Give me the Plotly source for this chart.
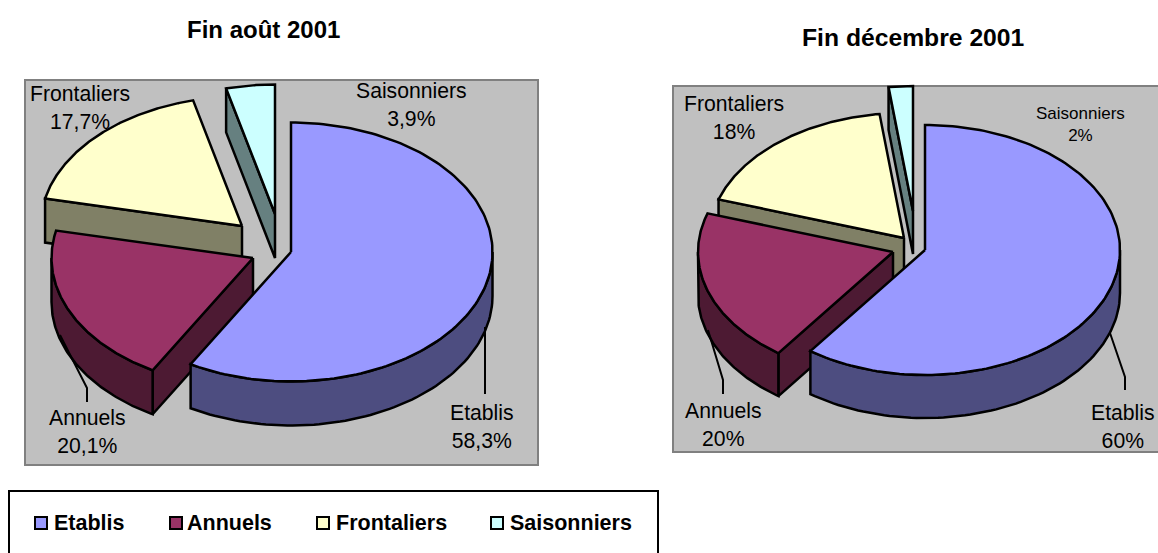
import numpy as np
import plotly.graph_objects as go

categories = ["Etablis", "Annuels", "Frontaliers", "Saisonniers"]
values_aug = [58.3, 20.1, 17.7, 3.9]
values_dec = [60, 20, 18, 2]
title_aug = "Fin août 2001"
title_dec = "Fin décembre 2001"

FACE = ["#9999FF", "#993366", "#FFFFCC", "#CCFFFF"]
SIDE = ["#4D4D80", "#4D1A33", "#808066", "#668080"]
FONT = "Liberation Sans, Arial, sans-serif"
LW = 2.5

fig = go.Figure()


def poly(xs, ys, color):
    fig.add_trace(go.Scatter(x=xs, y=ys, mode="lines", fill="toself", fillcolor=color,
                             line=dict(color="black", width=LW), hoverinfo="skip", showlegend=False))


def pie3d(values, apexes, rx, ry, depth):
    total = sum(values)
    ends = np.cumsum(values) / total * 360.0
    starts = np.concatenate([[0.0], ends[:-1]])
    for i in [3, 2, 1, 0]:
        cx, cy = apexes[i]
        a0, a1 = starts[i], ends[i]
        # cut face on the starting edge
        if a0 > 90:
            ex = cx + rx * np.sin(np.radians(a0))
            ey = cy - ry * np.cos(np.radians(a0))
            poly([cx, ex, ex, cx, cx], [cy, ey, ey + depth, cy + depth, cy], SIDE[i])
        # outer rim
        r0, r1 = max(a0, 90.0), min(a1, 270.0)
        if r1 > r0:
            t = np.radians(np.linspace(r0, r1, 80))
            xr = cx + rx * np.sin(t)
            yr = cy - ry * np.cos(t)
            poly(np.r_[xr, xr[::-1], xr[0]], np.r_[yr, yr[::-1] + depth, yr[0]], SIDE[i])
        # top
        t = np.radians(np.linspace(a0, a1, 160))
        poly(np.r_[cx, cx + rx * np.sin(t), cx], np.r_[cy, cy - ry * np.cos(t), cy], FACE[i])


def lab(x, y, text, size=21.2, bold=False):
    fig.add_annotation(x=x, y=y, xref="x", yref="y", text=f"<b>{text}</b>" if bold else text,
                       showarrow=False, align="center", font=dict(family=FONT, size=size, color="black"))


def leader(xs, ys):
    fig.add_trace(go.Scatter(x=xs, y=ys, mode="lines", line=dict(color="black", width=2),
                             hoverinfo="skip", showlegend=False))


def fmt(v, dec):
    return (f"{v:.{dec}f}".replace(".", ",")) + "%"


# chart frames
frames = [(25, 80, 538, 465), (673, 86, 1170, 452)]
shapes = [dict(type="rect", x0=a, y0=b, x1=c, y1=d, xref="x", yref="y", layer="below",
               fillcolor="#C0C0C0", line=dict(color="#808080", width=2)) for a, b, c, d in frames]
shapes.append(dict(type="rect", x0=9, y0=491, x1=658, y1=570, xref="x", yref="y", layer="below",
                   fillcolor="white", line=dict(color="black", width=2)))

pie3d(values_aug, [(291, 252), (253, 258), (242, 226), (275, 214)], 201.5, 129.5, 44)
pie3d(values_dec, [(925, 250), (893, 252), (904, 238), (913, 211)], 195, 125, 43)

leader([485, 485], [327, 394])
leader([60, 70, 87, 87], [335, 355, 388, 402])
leader([1110, 1125, 1125], [333, 377, 390])
leader([708, 723, 723], [330, 380, 394])

lab(263.5, 29, title_aug, 24, True)
lab(913.5, 37, title_dec, 24.7, True)

pos_aug = [(482, 426), (87, 431), (80, 107), (411, 104)]
pos_dec = [(1123, 426), (723, 424), (734, 117), (1080, 124)]
for c, v, p in zip(categories, values_aug, pos_aug):
    lab(p[0], p[1], f"{c}<br>{fmt(v, 1)}")
for c, v, p, s in zip(categories, values_dec, pos_dec, [21.2, 21.2, 21.2, 17]):
    lab(p[0], p[1], f"{c}<br>{fmt(v, 0)}", s)

# legend
leg_x = [41, 176, 323, 497]
leg_text_x = [51.5, 185, 333.5, 507.5]
fig.add_trace(go.Scatter(x=leg_x, y=[523] * 4, mode="markers",
                         marker=dict(symbol="square", size=12, color=FACE, line=dict(color="black", width=2)),
                         hoverinfo="skip", showlegend=False))
for x, c in zip(leg_text_x, categories):
    fig.add_annotation(x=x, y=523, xref="x", yref="y", text=f"<b>{c}</b>", showarrow=False,
                       xanchor="left", font=dict(family=FONT, size=21.5, color="black"))

fig.update_layout(
    width=1158, height=553, margin=dict(l=0, r=0, t=0, b=0),
    paper_bgcolor="white", plot_bgcolor="white", showlegend=False, shapes=shapes,
    xaxis=dict(range=[0, 1158], visible=False, fixedrange=True),
    yaxis=dict(range=[553, 0], visible=False, fixedrange=True),
)
fig.write_html("out.html", config={"displayModeBar": False},
               post_script="document.body.style.margin='0';document.body.style.overflow='hidden';")
